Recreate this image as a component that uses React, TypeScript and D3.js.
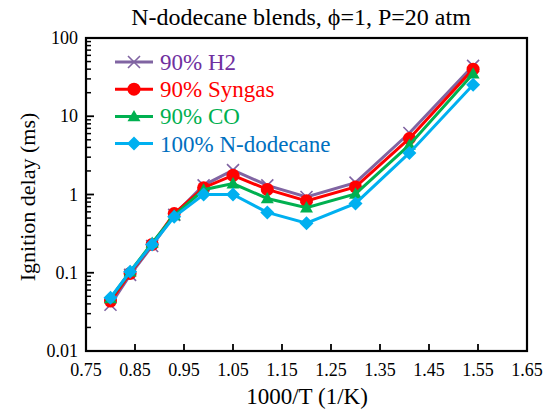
import React from "react";
import * as d3 from "d3";

const W = 553;
const H = 411;

const xValues = [0.8, 0.84, 0.885, 0.93, 0.99, 1.05, 1.12, 1.2, 1.3, 1.41, 1.54];
const h2Values = [0.039, 0.094, 0.22, 0.55, 1.31, 2.05, 1.31, 0.93, 1.42, 6.1, 44];
const syngasValues = [0.0435, 0.098, 0.23, 0.57, 1.22, 1.76, 1.16, 0.83, 1.25, 5.2, 40];
const coValues = [0.047, 0.103, 0.24, 0.54, 1.15, 1.38, 0.89, 0.68, 1.02, 4.3, 35];
const dodecaneValues = [0.048, 0.103, 0.23, 0.52, 1.0, 1.0, 0.59, 0.43, 0.77, 3.4, 25.3];

const xTicks = [0.75, 0.85, 0.95, 1.05, 1.15, 1.25, 1.35, 1.45, 1.55, 1.65];
const yTicks = [0.01, 0.1, 1, 10, 100];
const yTickLabels = ["0.01", "0.1", "1", "10", "100"];

type Marker = "x" | "circle" | "triangle" | "diamond";

const seriesList: { name: string; values: number[]; line: string; text: string; marker: Marker }[] = [
  { name: "90% H2", values: h2Values, line: "#8064A2", text: "#7030A0", marker: "x" },
  { name: "90% Syngas", values: syngasValues, line: "#FF0000", text: "#FF0000", marker: "circle" },
  { name: "90% CO", values: coValues, line: "#00B050", text: "#00B050", marker: "triangle" },
  { name: "100% N-dodecane", values: dodecaneValues, line: "#00B0F0", text: "#0070C0", marker: "diamond" },
];

const plot = { left: 86, right: 527, top: 38, bottom: 351 };

const x = d3.scaleLinear().domain([0.75, 1.65]).range([plot.left, plot.right]);
const y = d3.scaleLog().domain([0.01, 100]).range([plot.bottom, plot.top]);

const font = "'Liberation Serif', 'Times New Roman', Times, serif";

function MarkerShape({ kind, cx, cy, color }: { kind: Marker; cx: number; cy: number; color: string }) {
  if (kind === "circle") return <circle cx={cx} cy={cy} r={6.5} fill={color} />;
  if (kind === "triangle") {
    const s = 6.5;
    return (
      <path
        d={`M${cx},${cy - s} L${cx + s},${cy + s * 0.75} L${cx - s},${cy + s * 0.75} Z`}
        fill={color}
      />
    );
  }
  if (kind === "diamond") {
    const s = 7;
    return <path d={`M${cx},${cy - s} L${cx + s},${cy} L${cx},${cy + s} L${cx - s},${cy} Z`} fill={color} />;
  }
  const s = 6;
  return (
    <path
      d={`M${cx - s},${cy - s} L${cx + s},${cy + s} M${cx - s},${cy + s} L${cx + s},${cy - s}`}
      stroke={color}
      strokeWidth={1.6}
      fill="none"
    />
  );
}

export default function App() {
  const line = d3
    .line<[number, number]>()
    .x((d) => x(d[0]))
    .y((d) => y(d[1]));

  const minorTicks: number[] = [];
  for (let e = -2; e < 2; e++) {
    for (let m = 2; m <= 9; m++) minorTicks.push(m * Math.pow(10, e));
  }

  return (
    <svg
      width={W}
      height={H}
      style={{ position: "absolute", left: 0, top: 0, background: "#fff", fontFamily: font }}
    >
      <rect x={0} y={0} width={W} height={H} fill="#fff" />
      <text x={301} y={25} textAnchor="middle" fontSize={24} fill="#000">
        N-dodecane blends, ϕ=1, P=20 atm
      </text>

      {/* frame */}
      <rect
        x={plot.left}
        y={plot.top}
        width={plot.right - plot.left}
        height={plot.bottom - plot.top}
        fill="none"
        stroke="#000"
        strokeWidth={2.2}
      />

      {/* y axis ticks */}
      {minorTicks.map((v, i) => (
        <line key={"m" + i} x1={plot.left} x2={plot.left + 5} y1={y(v)} y2={y(v)} stroke="#000" strokeWidth={1.5} />
      ))}
      {yTicks.map((v, i) => (
        <g key={"y" + i}>
          <line x1={plot.left} x2={plot.left + 8} y1={y(v)} y2={y(v)} stroke="#000" strokeWidth={1.8} />
          <text x={plot.left - 8} y={y(v) + 6} textAnchor="end" fontSize={18} fill="#000">
            {yTickLabels[i]}
          </text>
        </g>
      ))}

      {/* x axis ticks */}
      {xTicks.map((v, i) => (
        <g key={"x" + i}>
          <line x1={x(v)} x2={x(v)} y1={plot.bottom} y2={plot.bottom - 7} stroke="#000" strokeWidth={1.8} />
          <text x={x(v)} y={plot.bottom + 25} textAnchor="middle" fontSize={18} fill="#000">
            {v.toFixed(2)}
          </text>
        </g>
      ))}

      <text x={307} y={404} textAnchor="middle" fontSize={23} fill="#000">
        1000/T (1/K)
      </text>
      <text
        transform={`translate(35,197) rotate(-90)`}
        textAnchor="middle"
        fontSize={22}
        fill="#000"
      >
        Ignition delay (ms)
      </text>

      {/* series */}
      {seriesList.map((s) => {
        const pts = xValues.map((xv, i) => [xv, s.values[i]] as [number, number]);
        return (
          <g key={s.name}>
            <path d={line(pts) || ""} fill="none" stroke={s.line} strokeWidth={3} />
            {pts.map((p, i) => (
              <MarkerShape key={i} kind={s.marker} cx={x(p[0])} cy={y(p[1])} color={s.line} />
            ))}
          </g>
        );
      })}

      {/* legend */}
      {seriesList.map((s, i) => {
        const ly = 62 + i * 27.2;
        return (
          <g key={"lg" + i}>
            <line x1={115} x2={153} y1={ly} y2={ly} stroke={s.line} strokeWidth={3} />
            <MarkerShape kind={s.marker} cx={134} cy={ly} color={s.line} />
            <text x={160} y={ly + 8} fontSize={23} fill={s.text}>
              {s.name}
            </text>
          </g>
        );
      })}
    </svg>
  );
}
